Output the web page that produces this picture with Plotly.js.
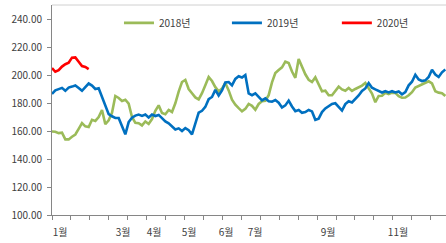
<!DOCTYPE html>
<html>
<head>
<meta charset="utf-8">
<script src="https://cdn.plot.ly/plotly-3.0.1.min.js"></script>
<style>html,body{margin:0;padding:0;background:#fff;}#chart{width:446px;height:243px;}</style>
</head>
<body>
<div id="chart"></div>
<script>
// Sampled values (one sample every ~2 trading days)
var series2018 = [159.6,159.5,158.5,158.8,154,154,155.9,157.5,161.5,165.6,163.3,162.8,168,167.2,170,175,164.8,167.6,173,185,183.6,181.4,182.3,179.5,170,165.8,165.6,164,166.8,165,168.5,174.4,178.3,172.9,172,175.1,173.6,179.8,188.2,195,196.5,190,187,184,182.6,187,192.6,198.5,195.7,191.3,188.3,190.3,194.3,189,182.3,178.8,176.3,174,175.8,179.3,178,175.2,179.3,181.2,181.6,185.6,194.7,201.4,203.6,205.5,209.5,208.6,202.5,198,211.5,206,200.5,196.6,195,198.3,193.5,188.4,188.8,185.5,185.5,189,191.7,189.7,188.7,190.7,188.6,190,191.1,192.4,194.3,190.6,186.8,180.6,185,185.2,187.3,186.3,187.4,187.2,184.9,183.8,183.9,185.5,187.7,191.1,192.3,193.5,194.6,195.5,194,188.4,187.4,187,185];
var series2019 = [186.5,189,189.9,190.8,188.7,191,191.7,192.5,190.7,188.7,191.3,193.9,192.4,190,190.5,184,177.5,172,170.5,169.4,169.3,162.8,157.6,166.4,169.5,171,171.7,170.8,171.8,169.7,171.7,170.7,171.5,169.2,166.9,165.5,163.2,161.1,161.9,160,162.1,160.6,157.6,165.3,173.1,174.4,177.2,182.7,184.3,189.4,185.4,189,194.7,195,192.6,197.2,199.1,198.2,200,186.8,185.6,186.9,184.2,181.9,183.3,181.2,181,182.1,180.2,176.8,178.3,181.7,177.5,174.2,175,173,173.5,175,174,168,168.8,173.5,176.1,177.4,179.3,179.8,176.8,174.6,179.2,181.3,180.4,182.8,185.4,188.6,190.4,194.2,190.9,189.7,188.4,187.5,188.4,187.6,188.4,187.5,188.2,186.2,187.8,192.6,195.2,200.2,196.8,195.7,196.2,198.6,203.7,200.3,198.6,201.9,204];
var series2020 = [205,202.3,203.4,206,207.7,208.8,212.4,212.6,209.5,206.4,205.7,204.2];
var seriesNames = ['2018년','2019년','2020년'];
var seriesColors = ['#9BBB59','#0070C0','#FF0000'];
var monthLabels = ['1월','3월','4월','5월','6월','7월','9월','11월'];
var monthPos = [2.4,21.3,30.6,41.1,52.2,60.9,82.8,103.8];
var yTicks = [100,120,140,160,180,200,220,240];

function idx(arr){return arr.map(function(_,i){return i;});}
var all = [series2018, series2019, series2020];
var legendIds = ['legend','legend2','legend3'];
var traces = all.map(function(s,k){
  return {x: idx(s), y: s, type:'scatter', mode:'lines', name: seriesNames[k],
    legend: legendIds[k], line:{color: seriesColors[k], width:2.6}};
});

var font = 'Noto Sans CJK KR, Noto Sans, sans-serif';
function leg(x){
  return {orientation:'h', x:x, xanchor:'left', y:0.915, yanchor:'middle',
    font:{family:font, size:10, color:'#404040'}, bgcolor:'rgba(0,0,0,0)'};
}
var layout = {
  width:446, height:243,
  margin:{l:52, r:0, t:5, b:28},
  paper_bgcolor:'#fff', plot_bgcolor:'#fff',
  font:{family:font, size:10, color:'#404040'},
  showlegend:true,
  legend: leg(0.17), legend2: leg(0.444), legend3: leg(0.723),
  xaxis:{range:[0,118.2], showgrid:false, zeroline:false, showline:true,
    linecolor:'#868686', linewidth:1,
    tickmode:'array', tickvals: monthPos, ticktext: monthLabels, ticks:'',
    ticklabelstandoff:8,
    tickfont:{family:font, size:10, color:'#404040'},
    minor:{tickmode:'linear', tick0:0, dtick:5.68, ticks:'outside', ticklen:4, tickcolor:'#868686', showgrid:false}
  },
  yaxis:{range:[100,250], showgrid:false, zeroline:false, showline:true,
    linecolor:'#868686', linewidth:1,
    tickmode:'array', tickvals:yTicks, ticktext: yTicks.map(function(v){return v.toFixed(2);}),
    ticks:'outside', ticklen:4, tickcolor:'#868686', ticklabelstandoff:3,
    tickfont:{family:font, size:10, color:'#404040'}},
  shapes:[{type:'line', xref:'paper', yref:'paper', x0:0, x1:1, y0:1, y1:1,
    line:{color:'#d0d0d0', width:1}}]
};
Plotly.newPlot('chart', traces, layout, {displayModeBar:false, staticPlot:true});
</script>
</body>
</html>
